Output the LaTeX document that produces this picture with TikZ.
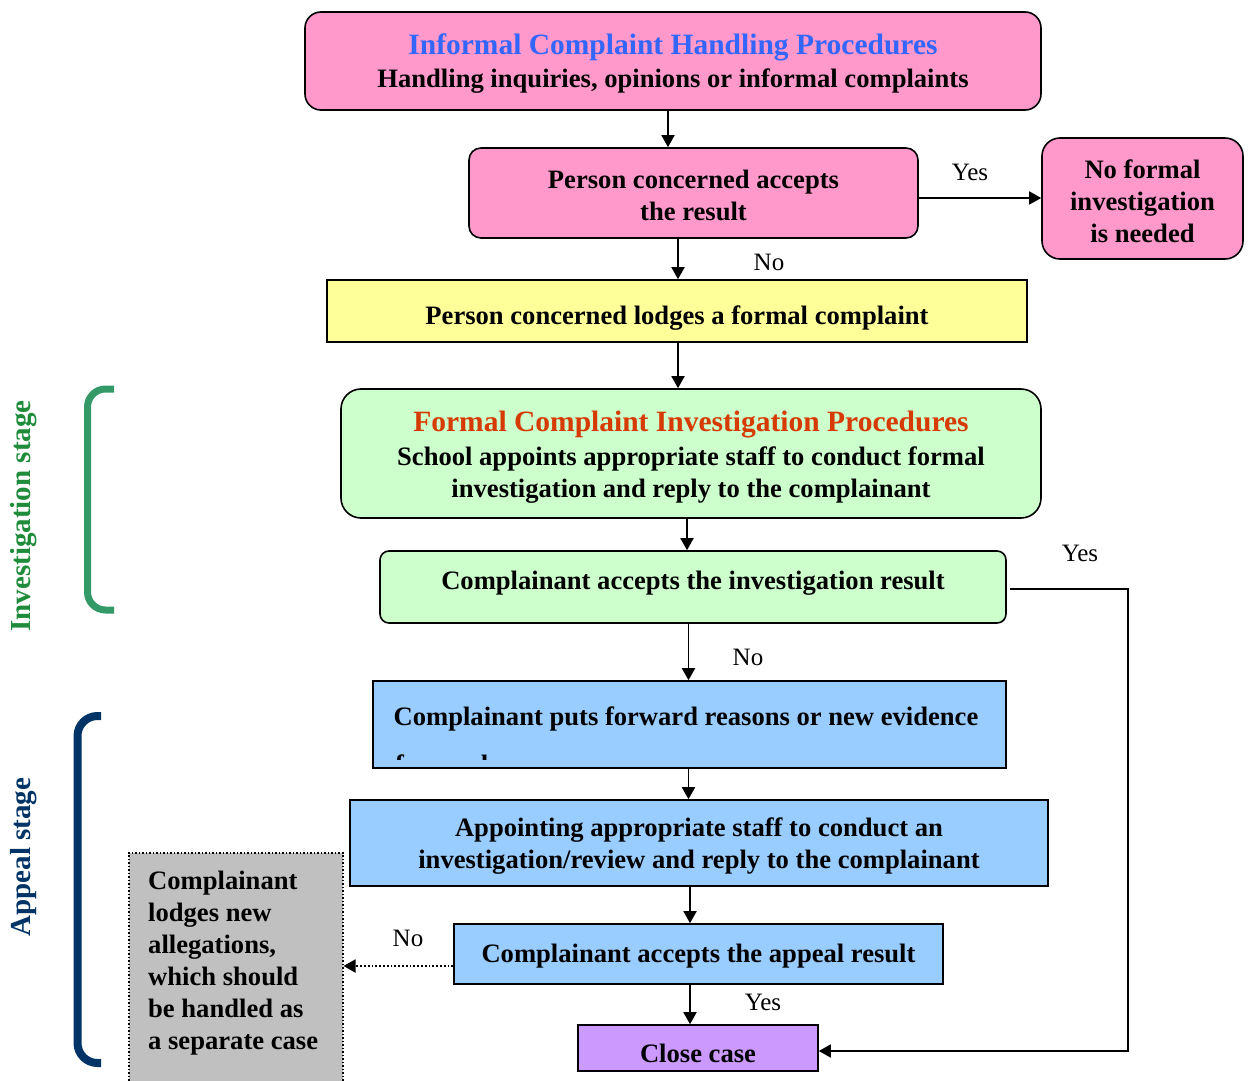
\documentclass[tikz,border=0pt]{standalone}
\usepackage{fontspec}
\setmainfont{Liberation Serif}
\usetikzlibrary{arrows.meta}
\definecolor{pinkbox}{HTML}{FF99CC}
\definecolor{yellowbox}{HTML}{FFFF99}
\definecolor{greenbox}{HTML}{CCFFCC}
\definecolor{bluebox}{HTML}{99CCFF}
\definecolor{purplebox}{HTML}{CC99FF}
\definecolor{greyfill}{HTML}{C0C0C0}
\definecolor{titleblue}{HTML}{3366FF}
\definecolor{titlered}{HTML}{D73A00}
\definecolor{stagegreen}{HTML}{1E8C3A}
\definecolor{bracketgreen}{HTML}{339966}
\definecolor{navy}{HTML}{003366}
\tikzset{
  mainfont/.style={font=\bfseries\fontsize{26.6}{32}\selectfont},
  box/.style={draw=black, line width=1.6pt, inner sep=0pt},
  txt/.style={mainfont, align=center, inner sep=0pt},
  arr/.style={line width=1.8pt, -{Triangle[length=12pt,width=13pt]}},
  lbl/.style={font=\fontsize{25}{30}\selectfont, inner sep=0pt},
  stagelbl/.style={font=\bfseries\fontsize{29}{34}\selectfont, rotate=90, inner sep=0pt},
}
\begin{document}
\begin{tikzpicture}[x=1pt,y=-1pt]
\clip (0,0) rectangle (1248,1081);
\fill[white] (0,0) rectangle (1248,1081);

% boxes
\node[box, fill=pinkbox, rounded corners=16pt, minimum width=736pt, minimum height=98pt] (top) at (673,61) {};
\node[txt] (toptxt) at (673,63.5)
  {{\color{titleblue}\fontsize{29.5}{34}\selectfont Informal Complaint Handling Procedures}\\[1pt]Handling inquiries, opinions or informal complaints};
\node[box, fill=pinkbox, rounded corners=12pt, minimum width=449pt, minimum height=90pt] (acc) at (693.5,193) {};
\node[txt] (acctxt) at (693.5,195) {Person concerned accepts\\the result};
\node[box, fill=pinkbox, rounded corners=18pt, minimum width=201pt, minimum height=121pt] (nofi) at (1142.5,198.5) {};
\node[txt] (nofitxt) at (1142.5,201.5) {No formal\\investigation\\is needed};
\node[box, fill=yellowbox, minimum width=700pt, minimum height=62pt] (lodge) at (677,311) {};
\node[txt] (lodgetxt) at (677,318) {Person concerned lodges a formal complaint};
\node[box, fill=greenbox, rounded corners=20pt, minimum width=700pt, minimum height=129pt] (formal) at (691,453.5) {};
\node[txt] (formaltxt) at (691,457.5)
  {{\color{titlered}\fontsize{29.5}{34}\selectfont Formal Complaint Investigation Procedures}\\[2pt]School appoints appropriate staff to conduct formal\\investigation and reply to the complainant};
\node[box, fill=greenbox, rounded corners=9pt, minimum width=626pt, minimum height=72pt] (accinv) at (693,587) {};
\node[txt] (accinvtxt) at (693,583) {Complainant accepts the investigation result};
\node[box, fill=bluebox, minimum width=633pt, minimum height=87pt] (reasons) at (689.5,724.5) {};
\node[txt] (reasonstxt) at (686,719) {Complainant puts forward reasons or new evidence};
\begin{scope}
  \clip (380,690) rectangle (1000,759);
  \node[mainfont, inner sep=0pt, anchor=north west] (reasonsmore) at (395,755) {forward};
\end{scope}
\node[box, fill=bluebox, minimum width=698pt, minimum height=86pt] (appoint) at (699,843) {};
\node[txt] (appointtxt) at (699,846)
  {Appointing appropriate staff to conduct an\\investigation/review and reply to the complainant};
\node[box, fill=bluebox, minimum width=489pt, minimum height=60pt] (appeal) at (698.5,954) {};
\node[txt] (appealtxt) at (698.5,956) {Complainant accepts the appeal result};
\node[box, fill=purplebox, minimum width=240pt, minimum height=46pt] (close) at (698,1048) {};
\node[txt] (closetxt) at (698,1053.5) {Close case};
\node[draw=black, dotted, line width=1.5pt, fill=greyfill, anchor=north west, minimum width=214pt, minimum height=245pt, inner sep=0pt] (grey) at (128,852) {};
\node[mainfont, inner sep=0pt, anchor=north west, align=left] (greytext) at (148,871)
  {Complainant\\lodges new\\allegations,\\which should\\be handled as\\a separate case};

% connectors
\draw[arr] ([xshift=-5pt]top.south) -- ([xshift=-25.5pt]acc.north);
\draw[arr] ([xshift=-15.5pt]acc.south) -- ([xshift=1pt]lodge.north);
\draw[arr] ([yshift=-5pt]acc.east) -- ([yshift=-5pt]acc.east -| nofi.west);
\draw[arr] ([xshift=1pt]lodge.south) -- ([xshift=-13pt]formal.north);
\draw[arr] ([xshift=-4pt]formal.south) -- ([xshift=-6pt]accinv.north);
\draw[arr] ([xshift=-4.5pt]accinv.south) -- ([xshift=-1pt]reasons.north);
\draw[arr] ([xshift=-1pt]reasons.south) -- ([xshift=-10.5pt]appoint.north);
\draw[arr] ([xshift=-9pt]appoint.south) -- ([xshift=-8.5pt]appeal.north);
\draw[arr] ([xshift=-8.5pt]appeal.south) -- ([xshift=-8pt]close.north);
\draw[arr, dotted] ([yshift=-12pt]appeal.west) -- ([yshift=-12pt]appeal.west -| grey.east);
\coordinate (loopstart) at (1010,589);
\coordinate (loopcorner) at (1128,589);
\draw[arr, line width=1.6pt] (loopstart) -- (loopcorner) |- ([yshift=-3pt]close.east);

% labels
\node[lbl] (yes1) at (970,172) {Yes};
\node[lbl] (no1) at (769,262) {No};
\node[lbl] (yes2) at (1080,553) {Yes};
\node[lbl] (no2) at (748,657) {No};
\node[lbl] (no3) at (408,938) {No};
\node[lbl] (yes3) at (763,1002) {Yes};

% stage brackets
\draw[bracketgreen, line width=7pt, rounded corners=18pt] (114,389) -- (87.5,389) -- (87.5,610) -- (114,610);
\node[stagelbl, text=stagegreen] (invstage) at (24,516) {Investigation stage};
\draw[navy, line width=8pt, rounded corners=20pt] (101,716) -- (77.5,716) -- (77.5,1063) -- (101,1063);
\node[stagelbl, text=navy] (appstage) at (24,857) {Appeal stage};
\end{tikzpicture}
\end{document}
